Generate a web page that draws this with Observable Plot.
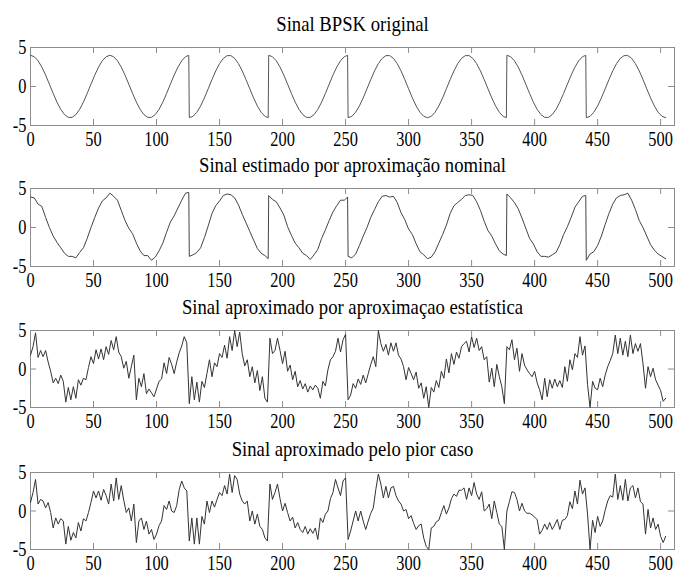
<!DOCTYPE html>
<html><head><meta charset="utf-8">
<script src="https://cdn.jsdelivr.net/npm/d3@7"></script>
<script src="https://cdn.jsdelivr.net/npm/@observablehq/plot@0.6"></script>
<style>
html,body{margin:0;padding:0;background:#fff;}
#chart{position:relative;width:675px;height:575px;overflow:hidden;}
#chart svg{position:absolute;left:0;}
#chart svg, #chart svg text{font-family:"Liberation Serif","Times New Roman",serif !important;}
</style></head><body><div id="chart"></div>
<script>
const titles = [
  "Sinal BPSK original",
  "Sinal estimado por aproximação nominal",
  "Sinal aproximado por aproximaçao estatística",
  "Sinal aproximado pelo pior caso"
];
const xTicks = [0, 50, 100, 150, 200, 250, 300, 350, 400, 450, 500];
const yTicks = [-5, 0, 5];

// sample spacing of each listed series
const step1 = 3, step2 = 3, step3 = 2, step4 = 2;

// samples where the phase flips, and the value just before each flip
const flipSamples = [126, 189, 252, 378, 441];
const beforeFlip1 = [4.0, -4.0, 4.0, -4.0, 4.0];
const beforeFlip2 = [4.5, -4.0, 3.9, -3.6, 4.1];

const sinalOriginal = [
  4.00,3.82,3.30,2.49,1.46,0.30,-0.89,-2.00,-2.93,-3.60,-3.96,-3.96,-3.60,-2.93,-2.00,-0.89,0.30,1.46,2.49,3.30,3.82,
  4.00,3.82,3.30,2.49,1.46,0.30,-0.89,-2.00,-2.93,-3.60,-3.96,-3.96,-3.60,-2.93,-2.00,-0.89,0.30,1.46,2.49,3.30,3.82,
  -4.00,-3.82,-3.30,-2.49,-1.46,-0.30,0.89,2.00,2.93,3.60,3.96,3.96,3.60,2.93,2.00,0.89,-0.30,-1.46,-2.49,-3.30,-3.82,
  4.00,3.82,3.30,2.49,1.46,0.30,-0.89,-2.00,-2.93,-3.60,-3.96,-3.96,-3.60,-2.93,-2.00,-0.89,0.30,1.46,2.49,3.30,3.82,
  -4.00,-3.82,-3.30,-2.49,-1.46,-0.30,0.89,2.00,2.93,3.60,3.96,3.96,3.60,2.93,2.00,0.89,-0.30,-1.46,-2.49,-3.30,-3.82,
  -4.00,-3.82,-3.30,-2.49,-1.46,-0.30,0.89,2.00,2.93,3.60,3.96,3.96,3.60,2.93,2.00,0.89,-0.30,-1.46,-2.49,-3.30,-3.82,
  4.00,3.82,3.30,2.49,1.46,0.30,-0.89,-2.00,-2.93,-3.60,-3.96,-3.96,-3.60,-2.93,-2.00,-0.89,0.30,1.46,2.49,3.30,3.82,
  -4.00,-3.82,-3.30,-2.49,-1.46,-0.30,0.89,2.00,2.93,3.60,3.96,3.96,3.60,2.93,2.00,0.89,-0.30,-1.46,-2.49,-3.30,-3.82,
  -4.00
];

const sinalNominal = [
  3.9,3.8,3.0,2.7,1.3,0.0,-1.1,-1.9,-2.6,-3.3,-3.7,-3.7,-3.9,-3.2,-2.6,-1.4,0.0,1.3,2.5,3.4,3.8,
  4.4,4.0,3.5,2.2,0.9,-0.1,-0.8,-2.0,-3.0,-3.6,-3.6,-4.2,-3.8,-3.0,-2.0,-0.6,0.7,1.5,2.5,3.5,4.4,
  -3.7,-3.5,-3.2,-2.6,-1.3,0.2,1.8,2.8,3.4,4.1,4.3,4.2,3.8,2.9,1.7,0.6,-0.5,-1.6,-2.7,-3.3,-3.6,
  4.1,3.6,3.3,2.5,1.6,0.1,-1.0,-2.0,-2.6,-3.3,-3.6,-4.1,-3.5,-2.8,-1.4,-0.3,0.9,2.0,2.8,3.5,3.5,
  -3.7,-3.9,-3.4,-2.3,-1.1,0.0,1.3,2.3,3.3,4.0,4.1,3.9,4.0,3.2,1.9,1.0,-0.2,-0.9,-2.1,-3.1,-3.5,
  -4.0,-3.8,-3.1,-2.0,-0.9,0.3,1.8,2.8,3.2,3.6,4.1,4.2,4.1,3.3,2.2,0.8,-0.4,-1.1,-2.1,-3.0,-3.4,
  4.3,3.8,3.2,2.4,1.2,-0.1,-1.4,-2.1,-3.1,-3.7,-3.7,-3.8,-3.5,-3.2,-2.2,-0.9,0.1,1.3,2.6,3.3,4.0,
  -4.2,-3.4,-3.1,-2.3,-1.1,0.4,1.8,3.0,3.8,4.1,4.2,4.4,3.5,2.3,0.9,0.0,-1.1,-2.2,-2.9,-3.4,-3.7,
  -4.0
];

const sinalEstatistico = [
  1.8,2.9,4.7,1.5,2.4,1.6,2.4,0.9,-0.3,-1.8,
  -1.2,-1.9,-0.8,-1.6,-4.3,-2.4,-4.0,-2.3,-3.8,-1.4,
  -2.1,-1.2,-1.4,0.2,1.6,0.7,2.5,1.3,2.6,1.2,
  2.9,1.9,3.7,2.5,4.2,2.2,1.6,0.1,1.0,-1.2,
  0.3,1.8,-4.0,-1.2,-2.3,-0.6,-3.2,-2.6,-3.1,-3.6,
  -2.6,-1.6,-1.3,0.8,-0.6,1.5,0.6,-0.6,0.9,2.1,
  3.0,4.2,3.4,-4.5,-1.0,-4.0,-1.7,-4.3,-1.6,-2.4,
  -0.6,1.2,-1.0,0.8,0.3,2.0,1.5,3.1,1.4,4.2,
  2.4,5.0,2.9,4.8,2.0,0.4,1.2,-1.0,0.3,-1.8,
  -0.2,-2.8,-1.0,-3.8,-4.3,4.0,2.0,2.4,4.0,2.4,
  0.7,2.3,-0.3,0.5,-1.4,-0.3,-2.3,-1.5,-2.6,-1.9,
  -3.0,-2.2,-2.7,-2.1,-2.5,-3.8,-1.6,-2.2,-0.1,1.2,
  1.6,2.3,4.0,2.2,3.8,4.5,-4.0,-3.4,-1.9,-2.5,
  -1.3,-2.0,-0.8,-1.8,-0.6,0.6,1.6,0.3,5.0,3.3,
  2.3,3.2,1.8,3.4,2.3,3.4,1.8,1.3,0.3,-1.4,
  0.2,-0.6,-1.4,-0.4,-2.5,-1.8,-3.8,-2.3,-5.0,-2.4,
  -3.0,-1.5,-2.4,-0.3,-1.2,1.3,-0.5,2.0,0.6,2.2,
  1.4,2.9,3.3,3.6,2.2,4.2,2.8,4.0,2.4,2.9,
  1.2,1.6,-1.7,0.1,-2.3,0.6,-1.0,-2.3,-4.5,2.9,
  2.5,3.8,1.2,2.7,-0.3,2.0,0.5,-0.1,-0.6,-1.0,
  -0.3,-1.8,-2.7,-4.0,-1.2,-3.6,-1.4,-2.5,-1.3,-2.3,
  -1.5,-2.4,0.3,-1.6,1.2,-0.1,2.0,1.5,4.2,1.8,
  3.0,-2.0,-5.0,-1.6,-2.5,-2.7,-1.2,-2.3,-0.8,0.3,
  1.1,2.0,4.4,2.0,4.0,1.8,3.6,1.6,4.4,2.0,
  3.3,2.3,3.3,0.7,-2.5,0.3,-1.0,0.1,-1.4,-2.1,
  -2.8,-4.2,-3.8
];

const sinalPiorCaso = [
  1.1,2.4,4.1,0.9,1.5,1.3,0.4,1.1,-0.2,-2.2,
  -0.9,-1.7,-1.0,-1.3,-4.3,-2.0,-3.8,-2.8,-3.5,-1.5,
  -2.6,-1.0,-1.3,-0.2,1.1,2.6,1.7,2.6,1.4,2.8,
  2.0,0.9,3.5,1.3,4.3,1.5,3.3,1.4,-0.2,0.4,
  -1.3,0.9,-4.1,-1.3,-0.9,-2.4,-1.3,-3.0,-2.4,-3.7,
  -3.0,-1.9,-1.3,0.7,0.2,1.3,0.0,-0.2,0.7,2.8,
  3.9,3.0,2.6,-3.9,-0.9,-4.3,-0.9,-4.3,-0.7,-1.7,
  1.3,-0.2,1.3,0.5,1.5,2.4,2.0,3.3,2.2,4.8,
  2.4,4.6,4.1,2.2,1.3,0.9,1.3,-1.3,0.0,-1.7,
  -0.4,-2.0,-2.4,-3.5,-3.9,3.5,1.5,2.4,3.5,1.6,
  0.0,1.0,-0.2,-1.3,-0.8,-2.2,-1.5,-2.4,-2.8,-2.0,
  -3.0,-2.3,-2.9,-2.2,-3.7,-0.9,-1.5,-0.4,0.0,1.6,
  2.4,4.1,3.0,2.0,3.9,4.3,-3.7,-2.6,-1.3,0.0,
  -1.3,0.0,-1.3,-2.4,-1.3,-0.3,0.4,2.8,4.8,3.5,
  1.7,3.2,1.7,3.0,3.2,2.0,1.3,0.9,0.0,0.2,
  -1.0,-0.6,-1.6,-2.4,-1.9,-1.7,-3.5,-4.6,-5.0,-2.2,
  -2.0,-1.4,-1.2,-0.2,0.7,-0.4,0.4,1.6,2.2,1.9,
  2.7,2.7,3.0,1.5,3.0,2.0,3.7,2.2,1.5,2.5,
  0.0,0.3,0.9,-1.0,1.3,-0.2,-1.7,-2.0,-5.0,0.0,
  1.2,2.5,2.4,1.5,0.0,1.0,0.0,-0.3,-0.3,-0.5,
  -0.8,-1.1,-3.0,-2.5,-1.7,-2.4,-1.5,-2.4,-1.8,-1.1,
  -2.4,-1.2,-1.1,-0.6,1.2,0.3,2.6,0.9,4.0,2.2,
  3.0,-0.4,-5.0,-1.2,-2.8,-0.7,-2.0,-1.3,0.1,1.3,
  2.0,1.8,4.8,1.5,3.3,1.4,4.1,1.3,3.0,3.3,
  1.7,3.0,1.2,0.9,-3.0,0.2,-2.2,-0.9,-2.4,-1.7,
  -3.3,-4.1,-3.3
];

const frameTops = [47, 188, 330, 472];
const frameHeights = [78, 78, 77, 77];
const lineColors = ["#555", "#444", "#333", "#333"];

const FONT = '"Liberation Serif", "Times New Roman", serif';
const GRAY = "#8c8c8c";
const W = 675, ML = 30, MR = 1, MT = 47, MB = 28;

function squeeze(svg, selector, s) {
  svg.querySelectorAll(selector).forEach(t => {
    const x = +(t.getAttribute("x") || 0);
    const tr = t.getAttribute("transform") || "";
    t.setAttribute("transform", `${tr} translate(${x},0) scale(${s},1) translate(${-x},0)`);
  });
}

function buildData(values, step, before) {
  const data = values.map((v, i) => ({n: i * step, v}));
  if (before) flipSamples.forEach((f, k) => data.push({n: f - 0.4, v: before[k]}));
  return data.sort((a, b) => a.n - b.n);
}

function panel(data, title, top, fh, color) {
  const innerW = W - ML - MR;
  const svg = Plot.plot({
    width: W, height: MT + fh + MB,
    marginTop: MT, marginBottom: MB, marginLeft: ML, marginRight: MR,
    x: {domain: [0, 511]},
    y: {domain: [-5, 5]},
    style: {background: "transparent", overflow: "visible", fontFamily: FONT, color: "#000"},
    marks: [
      Plot.frame({stroke: GRAY}),
      Plot.tickX(xTicks, {x: d => d, insetTop: fh - 6, stroke: GRAY}),
      Plot.tickX(xTicks, {x: d => d, insetBottom: fh - 6, stroke: GRAY}),
      Plot.tickY([0], {y: d => d, insetRight: innerW - 6, stroke: GRAY}),
      Plot.tickY([0], {y: d => d, insetLeft: innerW - 6, stroke: GRAY}),
      Plot.line(data, {x: "n", y: "v", stroke: color, strokeWidth: 1}),
      Plot.axisX({ticks: xTicks, tickSize: 0, tickPadding: 6, fontSize: 21, tickFormat: d => String(d), label: null}),
      Plot.axisY({ticks: yTicks, tickSize: 0, tickPadding: 4, fontSize: 21, tickFormat: d => String(d), label: null}),
      Plot.text([title], {text: d => d, frameAnchor: "top", dy: -17, lineAnchor: "bottom", fontSize: 21, fill: "#000"})
    ]
  });
  squeeze(svg, 'g[aria-label="x-axis tick label"] text', 0.78);
  squeeze(svg, 'g[aria-label="y-axis tick label"] text', 0.78);
  squeeze(svg, 'g[aria-label="text"] text', 0.89);
  svg.style.top = (top - MT) + "px";
  return svg;
}

const chart = document.getElementById("chart");
const datasets = [
  buildData(sinalOriginal, step1, beforeFlip1),
  buildData(sinalNominal, step2, beforeFlip2),
  buildData(sinalEstatistico, step3, null),
  buildData(sinalPiorCaso, step4, null)
];
datasets.forEach((d, i) => {
  chart.appendChild(panel(d, titles[i], frameTops[i], frameHeights[i], lineColors[i]));
});
</script>
</body></html>
